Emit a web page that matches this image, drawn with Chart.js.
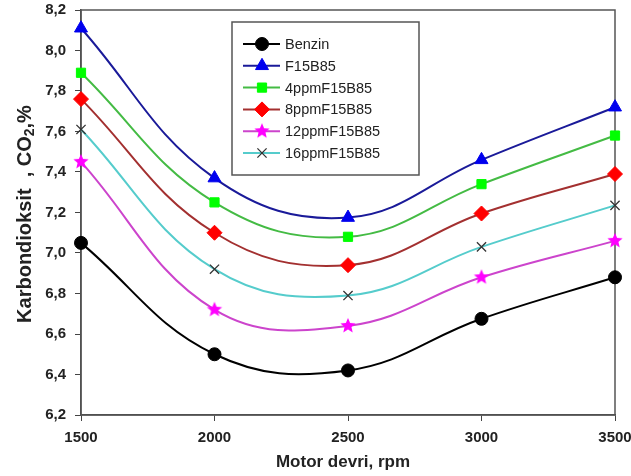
<!DOCTYPE html>
<html>
<head>
<meta charset="utf-8">
<script src="https://cdn.jsdelivr.net/npm/chart.js@4.4.1/dist/chart.umd.min.js"></script>
<style>
html,body{margin:0;padding:0;background:#fff;}
#wrap{width:631px;height:476px;position:relative;}
</style>
</head>
<body>
<div id="wrap"><canvas id="co2Chart" width="631" height="476"></canvas></div>
<script>
// CO2 - motor devri grafigi

const rpm = [1500, 2000, 2500, 3000, 3500];

const seriesNames = ["Benzin", "F15B85", "4ppmF15B85", "8ppmF15B85", "12ppmF15B85", "16ppmF15B85"];

const benzin = [7.05, 6.50, 6.42, 6.675, 6.88];
const f15b85 = [8.11, 7.37, 7.175, 7.46, 7.72];
const ppm4 = [7.89, 7.25, 7.08, 7.34, 7.58];
const ppm8 = [7.76, 7.10, 6.94, 7.195, 7.39];
const ppm12 = [7.45, 6.72, 6.64, 6.88, 7.06];
const ppm16 = [7.61, 6.92, 6.79, 7.03, 7.235];

const yTicks = [6.2, 6.4, 6.6, 6.8, 7.0, 7.2, 7.4, 7.6, 7.8, 8.0, 8.2];

const FONT = "'Liberation Sans', Arial, sans-serif";


// dolu yildiz isareti
function makeStar(r, color){
  let c = document.createElement("canvas");
  c.width = r*2+2;
  c.height = r*2+2;
  let g = c.getContext("2d");
  g.fillStyle = color;
  g.beginPath();
  for(let i=0;i<10;i++){
    let rad = (i%2===0) ? r : r*0.45;
    let a = -Math.PI/2 + i*Math.PI/5;
    let px = c.width/2 + rad*Math.cos(a);
    let py = c.height/2 + rad*Math.sin(a);
    if(i===0) g.moveTo(px,py); else g.lineTo(px,py);
  }
  g.closePath();
  g.fill();
  return c;
}

const starImg = makeStar(8, "#ff00ff");

function toPoints(vals){
  return vals.map((v,i)=>({x:rpm[i], y:v}));
}

const styles = [
  {line:"#000000", fill:"#000000", point:"circle", r:6.5},
  {line:"#1a1a99", fill:"#0000ee", point:"triangle", r:7.5},
  {line:"#44bb44", fill:"#00ff00", point:"rect", r:6.5},
  {line:"#a33030", fill:"#ff0000", point:"rectRot", r:7.5},
  {line:"#cc44cc", fill:"#ff00ff", point:starImg, r:8},
  {line:"#55cccc", fill:"#333333", point:"crossRot", r:6.5}
];

const allValues = [benzin, f15b85, ppm4, ppm8, ppm12, ppm16];

const datasets = allValues.map((vals,i)=>({
  label: seriesNames[i],
  data: toPoints(vals),
  borderColor: styles[i].line,
  borderWidth: 2,
  backgroundColor: styles[i].fill,
  pointBackgroundColor: styles[i].fill,
  pointBorderColor: styles[i].point==="crossRot" ? "#333333" : styles[i].fill,
  pointBorderWidth: styles[i].point==="crossRot" ? 1.3 : 1,
  pointStyle: styles[i].point,
  pointRadius: styles[i].r,
  tension: 0.4,
  clip: false
}));


// cerceve
const framePlugin = {
  id: "frame",
  beforeDatasetsDraw(chart){
    let a = chart.chartArea;
    let ctx = chart.ctx;
    ctx.save();
    ctx.strokeStyle = "#555555";
    ctx.lineWidth = 1.5;
    ctx.strokeRect(a.left, a.top, a.right-a.left, a.bottom-a.top);
    ctx.restore();
  }
};

// eksen basliklari
const titlePlugin = {
  id: "axisTitles",
  afterDraw(chart){
    let ctx = chart.ctx;
    ctx.save();
    ctx.fillStyle = "#222222";
    ctx.textBaseline = "middle";

    // x basligi
    ctx.font = "bold 17px " + FONT;
    ctx.textAlign = "center";
    ctx.fillText("Motor devri, rpm", 343, 462);

    // y basligi (CO2 alt simge ile)
    ctx.translate(25, 214);
    ctx.rotate(-Math.PI/2);
    let big = "bold 20px " + FONT;
    let small = "bold 14px " + FONT;
    let parts = [
      {t:"Karbondioksit  , CO", f:big, dy:0},
      {t:"2", f:small, dy:5},
      {t:",%", f:big, dy:0}
    ];
    let total = 0;
    parts.forEach(p=>{ ctx.font = p.f; p.w = ctx.measureText(p.t).width; total += p.w; });
    let x = -total/2;
    ctx.textAlign = "left";
    parts.forEach(p=>{
      ctx.font = p.f;
      ctx.fillText(p.t, x, p.dy);
      x += p.w;
    });
    ctx.restore();
  }
};

// grafik ici lejant
const legendPlugin = {
  id: "boxLegend",
  afterDraw(chart){
    let ctx = chart.ctx;
    let bx = 232, by = 22, bw = 187, bh = 153;
    ctx.save();
    ctx.fillStyle = "#ffffff";
    ctx.fillRect(bx, by, bw, bh);
    ctx.strokeStyle = "#555555";
    ctx.lineWidth = 1.5;
    ctx.strokeRect(bx, by, bw, bh);
    ctx.font = "14.5px " + FONT;
    ctx.textBaseline = "middle";
    chart.data.datasets.forEach((ds,i)=>{
      let y = 44 + i*21.8;
      ctx.strokeStyle = ds.borderColor;
      ctx.lineWidth = 2;
      ctx.beginPath();
      ctx.moveTo(243, y);
      ctx.lineTo(280, y);
      ctx.stroke();
      ctx.fillStyle = ds.pointBackgroundColor;
      ctx.strokeStyle = ds.pointBorderColor;
      ctx.lineWidth = ds.pointBorderWidth;
      Chart.helpers.drawPoint(ctx, {
        pointStyle: ds.pointStyle,
        radius: ds.pointRadius,
        borderWidth: ds.pointBorderWidth,
        rotation: 0
      }, 262, y);
      ctx.fillStyle = "#222222";
      ctx.fillText(ds.label, 285, y+1);
    });
    ctx.restore();
  }
};

const canvas = document.getElementById("co2Chart");

new Chart(canvas, {
  type: "line",
  data: {datasets: datasets},
  options: {
    responsive: false,
    animation: false,
    layout: {padding: {top: 10, right: 0, left: 0, bottom: 0}},
    plugins: {
      legend: {display: false},
      tooltip: {enabled: false}
    },
    scales: {
      x: {
        type: "linear",
        min: 1500,
        max: 3500,
        afterBuildTicks(scale){
          scale.ticks = rpm.map(v=>({value:v}));
        },
        afterFit(scale){
          scale.height = 61;
          scale.paddingLeft = 0;
          scale.paddingRight = 16;
        },
        grid: {drawOnChartArea: false, tickLength: 6, color: "#444444", lineWidth: 1},
        border: {color: "#444444", width: 1.5},
        ticks: {
          color: "#222222",
          padding: 8,
          maxRotation: 0,
          callback: v => String(v),
          font: {family: FONT, size: 15, weight: "bold"}
        }
      },
      y: {
        min: 6.2,
        max: 8.2,
        afterBuildTicks(scale){
          scale.ticks = yTicks.map(v=>({value:v}));
        },
        afterFit(scale){
          scale.width = 81;
          scale.paddingTop = 0;
          scale.paddingBottom = 0;
        },
        grid: {drawOnChartArea: false, tickLength: 6, color: "#444444", lineWidth: 1},
        border: {color: "#444444", width: 1.5},
        ticks: {
          color: "#222222",
          padding: 9,
          callback: v => v.toFixed(1).replace(".", ","),
          font: {family: FONT, size: 15, weight: "bold"}
        }
      }
    }
  },
  plugins: [framePlugin, titlePlugin, legendPlugin]
});
</script>
</body>
</html>
